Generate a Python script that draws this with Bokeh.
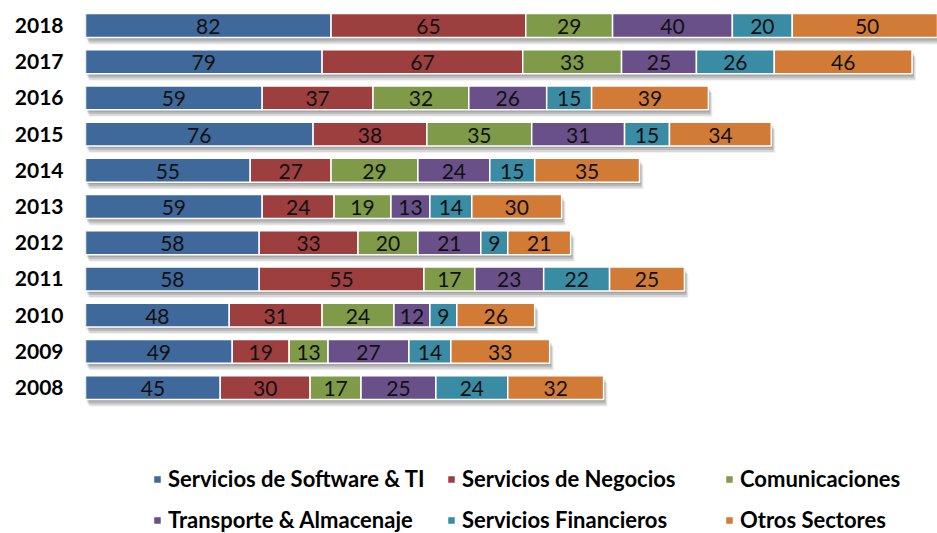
import numpy as np
from bokeh.plotting import figure
from bokeh.models import Range1d, FixedTicker, Legend, LegendItem, ColumnDataSource
from bokeh.core.properties import value
from bokeh.embed import file_html
from bokeh.resources import INLINE

years = [2008, 2009, 2010, 2011, 2012, 2013, 2014, 2015, 2016, 2017, 2018]
series_names = ["Servicios de Software & TI", "Servicios de Negocios", "Comunicaciones",
                "Transporte & Almacenaje", "Servicios Financieros", "Otros Sectores"]
software = [45, 49, 48, 58, 58, 59, 55, 76, 59, 79, 82]
negocios = [30, 19, 31, 55, 33, 24, 27, 38, 37, 67, 65]
comunicaciones = [17, 13, 24, 17, 20, 19, 29, 35, 32, 33, 29]
transporte = [25, 27, 12, 23, 21, 13, 24, 31, 26, 25, 40]
financieros = [24, 14, 9, 22, 9, 14, 15, 15, 15, 26, 20]
otros = [32, 33, 26, 25, 21, 30, 35, 34, 39, 46, 50]
colors = ["#3F689B", "#9D3F3E", "#7F9A48", "#6A5088", "#3A8CA4", "#D17B36"]

series = [software, negocios, comunicaciones, transporte, financieros, otros]

p = figure(width=937, height=533, output_backend="svg", toolbar_location=None,
           x_range=Range1d(0, 284.5), y_range=Range1d(2003.97, 2018.69),
           x_axis_location=None, min_border_left=85, min_border_right=0,
           min_border_top=0, min_border_bottom=0, outline_line_color=None)
p.xgrid.visible = False
p.ygrid.visible = False

yarr = np.array(years, dtype=float)
data = np.array(series, dtype=float)
totals = data.sum(axis=0)
px_x = 284.5 / 852.0
px_y = 14.72 / 533.0
bh = 0.66

# drop shadow
for dx, dy, a in [(1, 2, 0.12), (2, 4, 0.14), (3, 6, 0.10), (4, 7, 0.06)]:
    p.hbar(y=yarr - dy * px_y, left=dx * px_x, right=totals + dx * px_x, height=bh,
           fill_color="black", fill_alpha=a, line_color=None)

lefts = np.zeros(len(years))
renderers = []
for vals, col, name in zip(data, colors, series_names):
    rights = lefts + vals
    src = ColumnDataSource(dict(y=yarr, left=lefts.copy(), right=rights,
                                mid=(lefts + rights) / 2, lab=[str(int(v)) for v in vals]))
    r = p.hbar(y="y", left="left", right="right", height=bh, source=src,
               fill_color=col, line_color="white", line_width=1.5)
    renderers.append(r)
    p.text(x="mid", y="y", text="lab", source=src, text_align="center",
           text_baseline="middle", text_font=value("Lato"), text_font_size="21px",
           text_color="#111111", y_offset=1)
    lefts = rights

yax = p.yaxis[0]
yax.ticker = FixedTicker(ticks=years)
yax.axis_line_color = None
yax.major_tick_line_color = None
yax.minor_tick_line_color = None
yax.major_label_standoff = 16
yax.major_label_text_font = "Lato"
yax.major_label_text_font_style = "bold"
yax.major_label_text_font_size = "21px"
yax.major_label_text_color = "#000000"

cols = [(0, 3, 67), (1, 4, 361), (2, 5, 639)]
for i, j, xloc in cols:
    lg = Legend(items=[LegendItem(label=series_names[i], renderers=[renderers[i]]),
                       LegendItem(label=series_names[j], renderers=[renderers[j]])],
                location=(xloc, 0), orientation="vertical",
                padding=0, margin=0, spacing=14, border_line_color=None,
                background_fill_alpha=0, glyph_width=10, glyph_height=10,
                label_height=24, label_standoff=6,
                label_text_font="Lato", label_text_font_style="bold",
                label_text_font_size="22px", label_text_color="#000000")
    p.add_layout(lg, "center")

open("out.html", "w").write(file_html(p, INLINE))
